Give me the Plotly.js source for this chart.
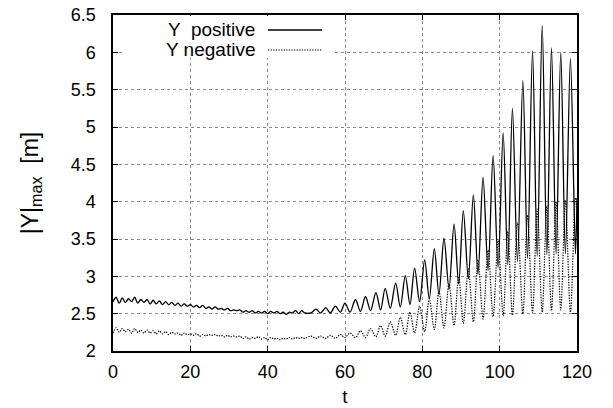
<!DOCTYPE html>
<html>
<head>
<meta charset="utf-8">
<script src="https://cdn.plot.ly/plotly-3.0.1.min.js"></script>
<style>
  html, body { margin: 0; padding: 0; background: #fff; }
  #chart { width: 613px; height: 408px; }
</style>
</head>
<body>
<div id="chart"></div>
<script>
// Time samples (s) and the envelope of |Y| on each side of the motion.
const tPos = [
  0, 0.8, 1.6, 2.4, 3.2, 4.0, 4.8, 5.6, 6.4, 7.2, 8.0, 8.8, 9.6, 10.4, 11.2, 12.0,
  12.8, 13.6, 14.4, 15.2, 16.0, 16.8, 17.6, 18.4, 19.2, 20.0, 20.8, 21.6, 22.4, 23.2,
  24.0, 24.8, 25.6, 26.4, 27.2, 28.0, 28.8, 29.6, 30.4, 31.2, 32.0, 32.8, 33.6, 34.4,
  35.2, 36.0, 36.8, 37.6, 38.4, 39.2, 40.0, 40.8, 41.6, 42.4, 43.2, 44.0, 44.8, 45.6,
  46.4, 47.2, 48.0, 48.8, 49.6,
  51.2, 52.5, 53.7, 55.0, 56.2, 57.5, 58.8, 60.0, 61.3, 62.7, 64.0, 65.3, 66.6, 68.0,
  69.2, 70.4, 71.7, 73.1, 74.3, 75.6, 76.8, 78.0, 79.3, 80.6, 81.8, 83.1, 84.3, 85.6,
  86.9, 88.2, 89.4, 90.6, 91.9, 93.2, 94.4, 95.7, 97.0, 98.3, 99.6, 100.9, 102.1, 103.3,
  104.6, 106.0, 107.2, 108.5, 109.7, 111.0, 112.2, 113.4, 114.6, 115.8, 117.0, 118.3,
  119.6, 120.0
];
const yPos = [
  2.66, 2.72, 2.64, 2.71, 2.65, 2.70, 2.66, 2.72, 2.64, 2.69, 2.65, 2.69, 2.63, 2.68, 2.63, 2.67,
  2.62, 2.66, 2.62, 2.65, 2.61, 2.64, 2.60, 2.63, 2.60, 2.62, 2.59, 2.61, 2.58, 2.61,
  2.57, 2.59, 2.56, 2.59, 2.56, 2.57, 2.55, 2.57, 2.54, 2.55, 2.54, 2.55, 2.52, 2.54,
  2.52, 2.54, 2.51, 2.53, 2.51, 2.53, 2.50, 2.53, 2.51, 2.53, 2.50, 2.52, 2.49, 2.52,
  2.51, 2.54, 2.50, 2.54, 2.51,
  2.51, 2.56, 2.51, 2.58, 2.51, 2.60, 2.52, 2.64, 2.52, 2.69, 2.53, 2.73, 2.54, 2.78,
  2.55, 2.84, 2.57, 2.91, 2.59, 3.01, 2.62, 3.11, 2.66, 3.22, 2.70, 3.37, 2.76, 3.51,
  2.83, 3.70, 2.90, 3.88, 2.97, 4.09, 3.03, 4.33, 3.08, 4.62, 3.12, 4.92, 3.16, 5.25,
  3.20, 5.62, 3.24, 6.02, 3.27, 6.36, 3.29, 6.06, 3.30, 6.00, 3.30, 5.92,
  3.30, 4.05
];

const tNeg = [
  0, 0.8, 1.6, 2.4, 3.2, 4.0, 4.8, 5.6, 6.4, 7.2, 8.0, 8.8, 9.6, 10.4, 11.2, 12.0,
  12.8, 13.6, 14.4, 15.2, 16.0, 16.8, 17.6, 18.4, 19.2, 20.0, 20.8, 21.6, 22.4, 23.2,
  24.0, 24.8, 25.6, 26.4, 27.2, 28.0, 28.8, 29.6, 30.4, 31.2, 32.0, 32.8, 33.6, 34.4,
  35.2, 36.0, 36.8, 37.6, 38.4, 39.2, 40.0, 40.8, 41.6, 42.4, 43.2, 44.0, 44.8, 45.6,
  46.4, 47.2, 48.0, 48.8, 49.6,
  51.2, 52.5, 53.7, 55.0, 56.2, 57.5, 58.8, 60.0, 61.3, 62.7, 64.0, 65.3, 66.6, 68.0,
  69.2, 70.4, 71.7, 73.1, 74.3, 75.6, 76.8, 78.0, 79.3, 80.6, 81.8, 83.1, 84.3, 85.6,
  86.9, 88.2, 89.4, 90.6, 91.9, 93.2, 94.4, 95.7, 97.0, 98.3, 99.6, 100.9, 102.1, 103.3,
  104.6, 106.0, 107.2, 108.5, 109.7, 111.0, 112.2, 113.4, 114.6, 115.8, 117.0, 118.3,
  119.6, 120.0
];
const yNeg = [
  2.24, 2.31, 2.25, 2.30, 2.26, 2.29, 2.24, 2.30, 2.25, 2.28, 2.24, 2.28, 2.24, 2.27, 2.23, 2.27,
  2.23, 2.26, 2.22, 2.25, 2.23, 2.24, 2.21, 2.24, 2.22, 2.23, 2.21, 2.23, 2.20, 2.22,
  2.20, 2.22, 2.21, 2.22, 2.20, 2.21, 2.19, 2.21, 2.19, 2.20, 2.19, 2.20, 2.17, 2.19,
  2.16, 2.18, 2.17, 2.19, 2.16, 2.18, 2.15, 2.18, 2.16, 2.17, 2.15, 2.17, 2.16, 2.18,
  2.16, 2.18, 2.17, 2.18, 2.17,
  2.20, 2.17, 2.20, 2.17, 2.21, 2.17, 2.22, 2.18, 2.24, 2.18, 2.27, 2.18, 2.30, 2.19,
  2.34, 2.20, 2.39, 2.21, 2.45, 2.22, 2.52, 2.24, 2.60, 2.26, 2.70, 2.29, 2.80, 2.31,
  2.90, 2.34, 3.00, 2.37, 3.10, 2.39, 3.22, 2.43, 3.35, 2.46, 3.48, 2.47, 3.60, 2.48,
  3.72, 2.50, 3.82, 2.51, 3.90, 2.52, 3.95, 2.54, 4.00, 2.55, 4.02, 2.52,
  4.05, 3.90
];

const seriesNames = ['Y  positive', 'Y negative'];
const xTicks = [0, 20, 40, 60, 80, 100, 120];
const yTicks = [2, 2.5, 3, 3.5, 4, 4.5, 5, 5.5, 6, 6.5];
const yTickText = ['2', '2.5', '3', '3.5', '4', '4.5', '5', '5.5', '6', '6.5'];

const FONT = 'Liberation Sans, Arial, Helvetica, sans-serif';
const dottedDash = '1.3px,1.3px';

const traces = [
  {
    x: tPos, y: yPos, name: seriesNames[0], type: 'scatter', mode: 'lines',
    line: { color: '#000', width: 1.3, shape: 'spline', smoothing: 0.9 },
    showlegend: false
  },
  {
    x: tNeg, y: yNeg, name: seriesNames[1], type: 'scatter', mode: 'lines',
    line: { color: '#000', width: 1.2, dash: dottedDash, shape: 'spline', smoothing: 0.9 },
    showlegend: false
  }
];

const axisCommon = {
  showline: true, linecolor: '#000', linewidth: 1.6, mirror: 'ticks',
  ticks: 'inside', ticklen: 5, tickwidth: 1, tickcolor: '#000',
  showgrid: true, gridcolor: '#8a8a8a', gridwidth: 1, griddash: 'dot',
  zeroline: false, tickfont: { family: FONT, size: 18, color: '#000' }
};

// gnuplot-style key: label text on the left, line sample on the right
const keyRows = [
  { label: seriesNames[0], y: 30, dash: 'solid', width: 1.3 },
  { label: seriesNames[1], y: 50, dash: dottedDash, width: 1.2 }
];
const H = 408, W = 613, L = 113, R = 36, T = 15, B = 57;
const px = v => (v - L) / (W - L - R);
const py = v => 1 - (v - T) / (H - T - B);

const layout = {
  width: W, height: H,
  margin: { l: L, r: R, t: T, b: B },
  paper_bgcolor: '#fff', plot_bgcolor: '#fff',
  font: { family: FONT, color: '#000' },
  xaxis: Object.assign({}, axisCommon, {
    range: [0, 120], tickvals: xTicks, ticklabelstandoff: 4,
    title: { text: 't', font: { family: FONT, size: 19 }, standoff: 8 }
  }),
  yaxis: Object.assign({}, axisCommon, {
    range: [2, 6.5], tickvals: yTicks, ticktext: yTickText, ticklabelstandoff: 12,
    title: { text: '|Y|<sub>max</sub>  [m]', font: { family: FONT, size: 23 }, standoff: 26 }
  }),
  annotations: keyRows.map(r => ({
    xref: 'paper', yref: 'paper', x: px(257), y: py(r.y),
    xanchor: 'right', yanchor: 'middle', showarrow: false,
    text: r.label, font: { family: FONT, size: 19, color: '#000' }
  })),
  shapes: [{
    // key background hides the grid behind it
    type: 'rect', xref: 'paper', yref: 'paper', layer: 'above',
    x0: px(123), x1: px(333), y0: py(58), y1: py(16),
    fillcolor: '#fff', line: { width: 0 }
  }].concat(keyRows.map(r => ({
    type: 'line', xref: 'paper', yref: 'paper', layer: 'above',
    x0: px(268), x1: px(322), y0: py(r.y), y1: py(r.y),
    line: { color: '#000', width: r.width, dash: r.dash }
  })))
};

Plotly.newPlot('chart', traces, layout, { staticPlot: true, displayModeBar: false });
</script>
</body>
</html>
